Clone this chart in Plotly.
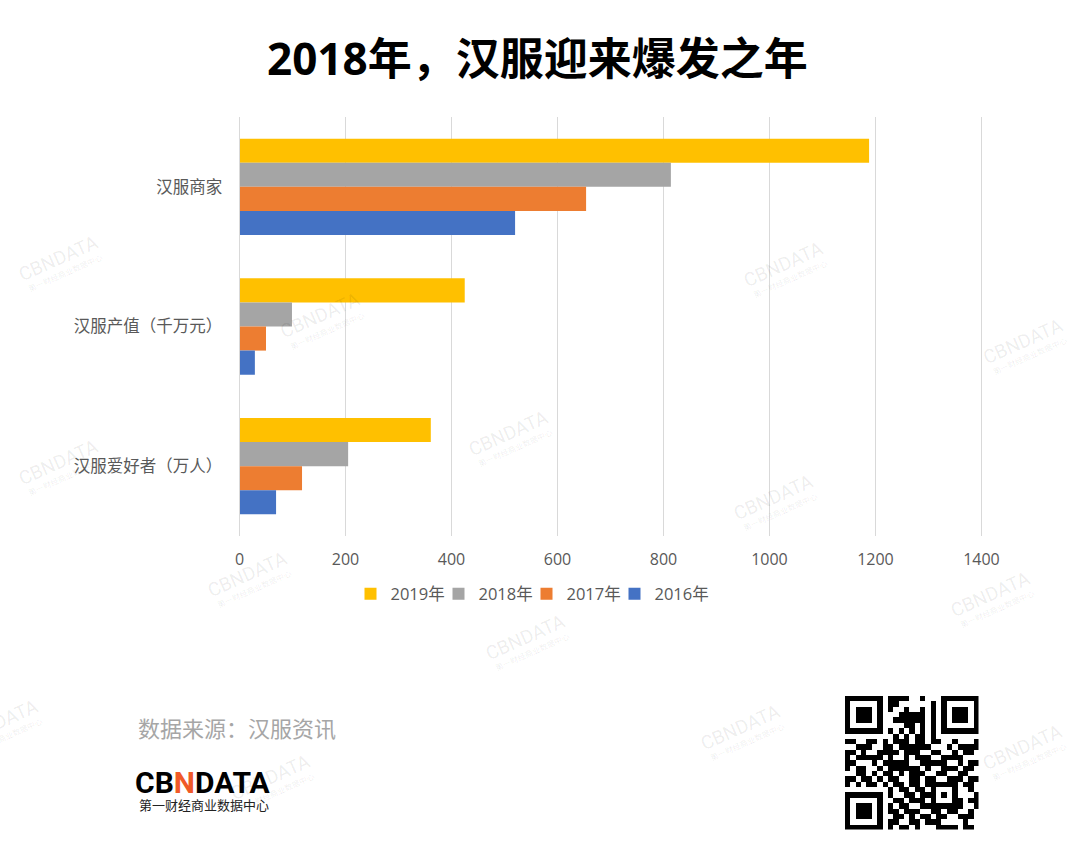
import plotly.graph_objects as go

W, H = 1080, 864
CJK = "Noto Sans CJK SC"
LATIN = "Open Sans, Noto Sans CJK SC"

categories = ["汉服商家", "汉服产值（千万元）", "汉服爱好者（万人）"]
years = ["2019年", "2018年", "2017年", "2016年"]
colors = ["#FFC000", "#A5A5A5", "#ED7D31", "#4472C4"]
v2019 = [1188, 425, 361]
v2018 = [814, 99, 205]
v2017 = [654, 50, 118]
v2016 = [520, 29, 69]
x_ticks = [0, 200, 400, 600, 800, 1000, 1200, 1400]

# watermark centres in page pixels
marks_x = [58, 783, 320, 1023, 508, 58, 773, 247, 990, 525, -2, 740, 270, 1022]
marks_y = [258, 264, 316, 342, 433, 462, 497, 574, 594, 637, 722, 727, 777, 747]

# QR modules
qr_rows = [
    "1111111011110010001111111",
    "1000001011000000101000001",
    "1011101010010010101011101",
    "1011101000111110101011101",
    "1011101001111110101011101",
    "1000001000011010101000001",
    "1111111010101010101111111",
    "0000000001010110100000000",
    "1100110101110110110010001",
    "0011100110111111000101111",
    "1101001111011100110010110",
    "1011111010010111001111000",
    "1100010111110011111001011",
    "1011001011111101001110110",
    "0011010110101110011001100",
    "1101101011001101100111011",
    "1010110101101101111110110",
    "0000000010110110100010010",
    "1111111010011011101010001",
    "1000001001101110100011011",
    "1011101010110011111111001",
    "1011101011011100110110010",
    "1011101001101011011001110",
    "1000001011001101110000100",
    "1111111010110100011110110",
]


def px(x):
    return x / W


def py(y):
    return 1 - y / H


fig = go.Figure()
for name, color, values in zip(years, colors, [v2019, v2018, v2017, v2016]):
    # last entry gets more room, otherwise the legend clips its label
    fig.add_trace(go.Bar(y=categories, x=values, name=name, orientation="h",
                         legendwidth=60 if name == years[-1] else 43,
                         marker=dict(color=color, line_width=0)))

fig.add_trace(go.Heatmap(z=[[int(c) for c in row] for row in qr_rows],
                         xaxis="x2", yaxis="y2", showscale=False, hoverinfo="skip",
                         colorscale=[[0, "#FFFFFF"], [1, "#000000"]]))

notes = [
    dict(x=px(537), y=py(58), text="2018年，汉服迎来爆发之年",
         font=dict(family=LATIN, size=44, color="#000000", weight="bold")),
    dict(x=px(237), y=py(727), text="数据来源：汉服资讯",
         font=dict(family=CJK, size=22, color="#A6A6A6")),
    dict(x=px(203), y=py(782), text='CB<span style="color:#F05A28">N</span>DATA',
         font=dict(family="Roboto", size=30, color="#000000", weight="bold")),
    dict(x=px(203.5), y=py(804), text="第一财经商业数据中心",
         font=dict(family=CJK, size=13, color="#222222")),
]
# watermarks go first so the logo stays on top
annotations = []
for mx, my in zip(marks_x, marks_y):
    annotations.append(dict(x=px(mx), y=py(my), text="CBNDATA", textangle=-24,
                            font=dict(family="Roboto", size=19, color="rgba(0,0,0,0.08)")))
    annotations.append(dict(x=px(mx + 7), y=py(my + 14), text="第一财经商业数据中心", textangle=-24,
                            font=dict(family=CJK, size=8, color="rgba(0,0,0,0.08)")))
annotations += notes
for a in annotations:
    a.update(xref="paper", yref="paper", showarrow=False, xanchor="center", yanchor="middle")

fig.update_layout(
    width=W, height=H,
    margin=dict(l=0, r=0, t=0, b=0, autoexpand=False),
    paper_bgcolor="#FFFFFF", plot_bgcolor="#FFFFFF",
    barmode="group", bargap=0.31, bargroupgap=0,
    font=dict(family=LATIN, color="#595959", size=16),
    annotations=annotations,
    showlegend=True,
    legend=dict(orientation="h", x=px(535), y=py(594), xanchor="center", yanchor="middle",
                traceorder="normal", entrywidth=43, entrywidthmode="pixels",
                font=dict(family=LATIN, size=16.5, color="#595959"),
                bgcolor="rgba(0,0,0,0)"),
    # the upper range end is nudged so the 1400 gridline is not clipped away
    xaxis=dict(domain=[px(239.5), px(982.5)], range=[0, 1402], tickvals=x_ticks,
               showgrid=True, gridcolor="#D9D9D9", gridwidth=1, zeroline=False,
               showline=False, ticks="", ticklabelstandoff=12, anchor="y",
               tickfont=dict(family=LATIN, size=16, color="#595959")),
    yaxis=dict(domain=[py(536), py(117)], autorange="reversed", showgrid=False,
               zeroline=False, showline=True, linecolor="#D9D9D9", linewidth=1,
               ticks="", ticklabelstandoff=13, anchor="x",
               tickfont=dict(family=CJK, size=16.5, color="#595959")),
    xaxis2=dict(domain=[px(845), px(978.5)], visible=False, anchor="y2", fixedrange=True),
    yaxis2=dict(domain=[py(829.5), py(696)], visible=False, anchor="x2", autorange="reversed"),
)

fig.write_html("out.html", config=dict(displayModeBar=False),
               post_script="document.body.style.margin = '0';")
